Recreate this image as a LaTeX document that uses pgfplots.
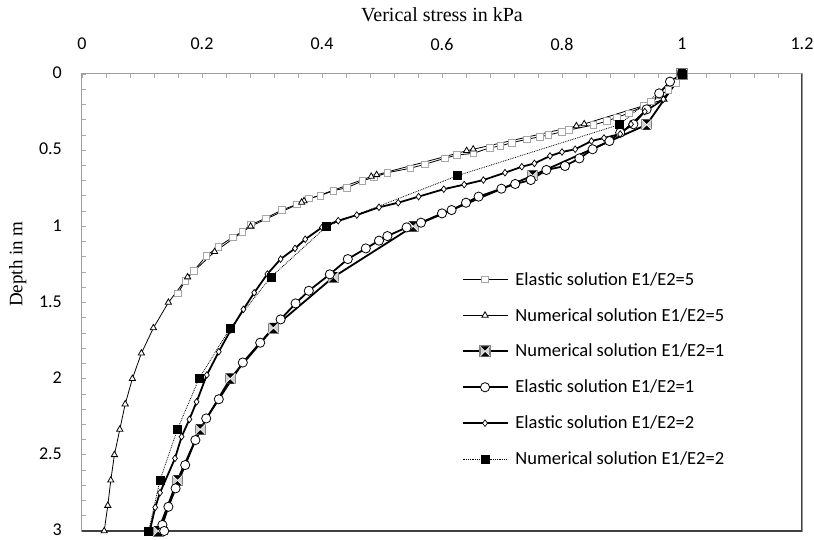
\documentclass[border=0pt]{standalone}
\usepackage{fontspec}
\setmainfont{Liberation Serif}
\newfontfamily\calibri{Carlito}
\usepackage{pgfplots}
\pgfplotsset{compat=1.18}

% square marker with a cross, dark top/bottom wedges
\pgfdeclareplotmark{boxx}{%
  \pgfpathrectangle{\pgfpoint{-\pgfplotmarksize}{-\pgfplotmarksize}}{\pgfpoint{2\pgfplotmarksize}{2\pgfplotmarksize}}%
  \pgfsetfillcolor{gray!35}\pgfsetstrokecolor{gray}\pgfusepath{fill,stroke}%
  \pgfpathmoveto{\pgfpoint{-\pgfplotmarksize}{\pgfplotmarksize}}%
  \pgfpathlineto{\pgfpoint{\pgfplotmarksize}{\pgfplotmarksize}}%
  \pgfpathlineto{\pgfpointorigin}\pgfpathclose
  \pgfpathmoveto{\pgfpoint{-\pgfplotmarksize}{-\pgfplotmarksize}}%
  \pgfpathlineto{\pgfpoint{\pgfplotmarksize}{-\pgfplotmarksize}}%
  \pgfpathlineto{\pgfpointorigin}\pgfpathclose
  \pgfsetfillcolor{black}\pgfusepath{fill}%
  \pgfpathmoveto{\pgfpoint{-\pgfplotmarksize}{-\pgfplotmarksize}}%
  \pgfpathlineto{\pgfpoint{\pgfplotmarksize}{\pgfplotmarksize}}%
  \pgfpathmoveto{\pgfpoint{-\pgfplotmarksize}{\pgfplotmarksize}}%
  \pgfpathlineto{\pgfpoint{\pgfplotmarksize}{-\pgfplotmarksize}}%
  \pgfsetstrokecolor{white}\pgfsetlinewidth{0.6pt}\pgfusepath{stroke}%
}

\begin{document}
\begin{tikzpicture}[x=1pt,y=1pt]
\begin{axis}[
  at={(0,0)}, anchor=south west,
  width=720pt, height=457pt, scale only axis,
  xmin=0, xmax=1.2, ymin=0, ymax=3, y dir=reverse,
  xtick={0,0.2,0.4,0.6,0.8,1,1.2},
  ytick={0,0.5,1,1.5,2,2.5,3},
  minor x tick num=4, minor y tick num=4,
  xtick pos=right, xticklabel pos=right, ytick pos=left,
  tick align=inside,
  major tick length=4pt, minor tick length=4pt,
  every tick/.style={gray!70, line width=0.8pt},
  axis line style={gray!75, line width=1pt},
  /pgf/number format/assume math mode=true,
  ticklabel style={font=\calibri\fontsize{18}{22}\selectfont, text=black},
  xticklabel style={anchor=center, inner sep=0pt, yshift=30pt},
  yticklabel style={anchor=east, inner sep=0pt, xshift=-20pt, yshift=1pt},
  xlabel={Verical stress in kPa},
  xlabel style={font=\fontsize{20}{24}\selectfont, at={(axis description cs:0.5,1.129)}, anchor=center},
  ylabel={Depth in m},
  ylabel style={font=\fontsize{19}{23}\selectfont, at={(axis description cs:-0.089,0.584)}, anchor=center},
  legend style={at={(axis description cs:0.527,0.571)}, anchor=north west, draw=none, fill=none,
    font=\calibri\fontsize{18.5}{22}\selectfont, row sep=17.6pt, inner sep=0pt,
    nodes={inner sep=2pt},
    /tikz/every odd column/.append style={column sep=5pt}},
  legend cell align=left,
  legend image code/.code={\draw[mark repeat=2,mark phase=2] plot coordinates {(0pt,0pt)(22.5pt,0pt)(45pt,0pt)};},
]
% Elastic solution E1/E2=5
\addplot[black, line width=0.8pt, mark=square*, mark size=3.3pt,
  mark options={draw=gray!70, fill=white, line width=0.8pt}] coordinates {
 (1.000,0.000) (0.990,0.060) (0.977,0.105) (0.963,0.140) (0.948,0.180)
 (0.936,0.210) (0.911,0.258) (0.891,0.285) (0.875,0.309) (0.852,0.335)
 (0.811,0.368) (0.800,0.379) (0.777,0.401) (0.763,0.412) (0.741,0.429)
 (0.716,0.451) (0.697,0.473) (0.680,0.484) (0.652,0.521) (0.625,0.532)
 (0.605,0.553) (0.571,0.593) (0.547,0.619) (0.509,0.648) (0.486,0.678)
 (0.467,0.703) (0.441,0.747) (0.419,0.766) (0.397,0.799) (0.378,0.816)
 (0.358,0.856) (0.333,0.893) (0.306,0.947) (0.281,0.990) (0.267,1.035)
 (0.251,1.072) (0.227,1.134) (0.207,1.195) (0.186,1.293) (0.172,1.357)
 (0.160,1.440)};
\addlegendentry{Elastic solution E1/E2=5}
% Numerical solution E1/E2=5
\addplot[black, line width=0.8pt, mark=triangle*, mark size=3.6pt,
  mark options={draw=black, fill=white, line width=0.8pt}] coordinates {
 (1.000,0.000) (0.970,0.167) (0.837,0.328) (0.824,0.341) (0.652,0.494)
 (0.641,0.504) (0.491,0.662) (0.482,0.673) (0.370,0.833) (0.366,0.843)
 (0.281,1.000) (0.221,1.167) (0.176,1.333) (0.144,1.500) (0.119,1.667)
 (0.099,1.833) (0.084,2.000) (0.072,2.167) (0.063,2.333) (0.054,2.500)
 (0.048,2.667) (0.043,2.833) (0.037,3.000)};
\addlegendentry{Numerical solution E1/E2=5}
% Numerical solution E1/E2=1
\addplot[black, line width=1.8pt, mark=boxx, mark size=5pt] coordinates {
 (1.000,0.000) (0.941,0.333) (0.751,0.667) (0.552,1.000) (0.419,1.333)
 (0.319,1.667) (0.247,2.000) (0.197,2.333) (0.159,2.667) (0.127,3.000)};
\addlegendentry{Numerical solution E1/E2=1}
% Elastic solution E1/E2=1
\addplot[black, line width=1.8pt, mark=*, mark size=4.6pt,
  mark options={draw=black, fill=white, line width=0.8pt}] coordinates {
 (1.000,0.000) (0.980,0.050) (0.962,0.127) (0.941,0.232) (0.919,0.330)
 (0.897,0.385) (0.879,0.440) (0.851,0.494) (0.829,0.554) (0.805,0.604)
 (0.774,0.630) (0.748,0.696) (0.722,0.722) (0.699,0.753) (0.661,0.805)
 (0.640,0.845) (0.616,0.893) (0.600,0.915) (0.565,0.976) (0.541,1.007)
 (0.509,1.064) (0.495,1.094) (0.473,1.145) (0.443,1.215) (0.413,1.315)
 (0.378,1.423) (0.356,1.506) (0.331,1.611) (0.297,1.764) (0.268,1.894)
 (0.228,2.135) (0.207,2.261) (0.189,2.403) (0.172,2.567) (0.156,2.720)
 (0.144,2.841) (0.134,2.960) (0.137,3.000)};
\addlegendentry{Elastic solution E1/E2=1}
% Elastic solution E1/E2=2
\addplot[black, line width=1.8pt, mark=diamond*, mark size=3.3pt,
  mark options={draw=black, fill=white, line width=0.7pt}] coordinates {
 (1.000,0.000) (0.969,0.166) (0.938,0.247) (0.915,0.330) (0.897,0.394)
 (0.870,0.420) (0.849,0.440) (0.822,0.494) (0.800,0.512) (0.780,0.538)
 (0.754,0.587) (0.733,0.609) (0.705,0.648) (0.669,0.696) (0.637,0.726)
 (0.603,0.756) (0.561,0.805) (0.527,0.845) (0.495,0.875) (0.458,0.926)
 (0.427,0.963) (0.400,1.007) (0.372,1.085) (0.355,1.145) (0.331,1.215)
 (0.309,1.313) (0.287,1.436) (0.269,1.545) (0.248,1.680) (0.228,1.823)
 (0.208,1.976) (0.191,2.152) (0.179,2.267) (0.166,2.381) (0.155,2.523)
 (0.130,2.749) (0.122,2.845) (0.113,3.000)};
\addlegendentry{Elastic solution E1/E2=2}
% Numerical solution E1/E2=2
\addplot[black, line width=0.8pt, densely dotted, mark=square*, mark size=4pt,
  mark options={solid, fill=black}] coordinates {
 (1.000,0.000) (0.895,0.333) (0.626,0.667) (0.408,1.000) (0.315,1.333)
 (0.247,1.667) (0.195,2.000) (0.159,2.333) (0.130,2.667) (0.111,3.000)};
\addlegendentry{Numerical solution E1/E2=2}
% darker right and bottom frame edges
\draw[black!75, line width=1.2pt] (axis description cs:1,1) -- (axis description cs:1,0) -- (axis description cs:0,0);
\end{axis}
\pgfresetboundingbox
\path (-82,-9) rectangle (732,531);
\end{tikzpicture}
\end{document}
